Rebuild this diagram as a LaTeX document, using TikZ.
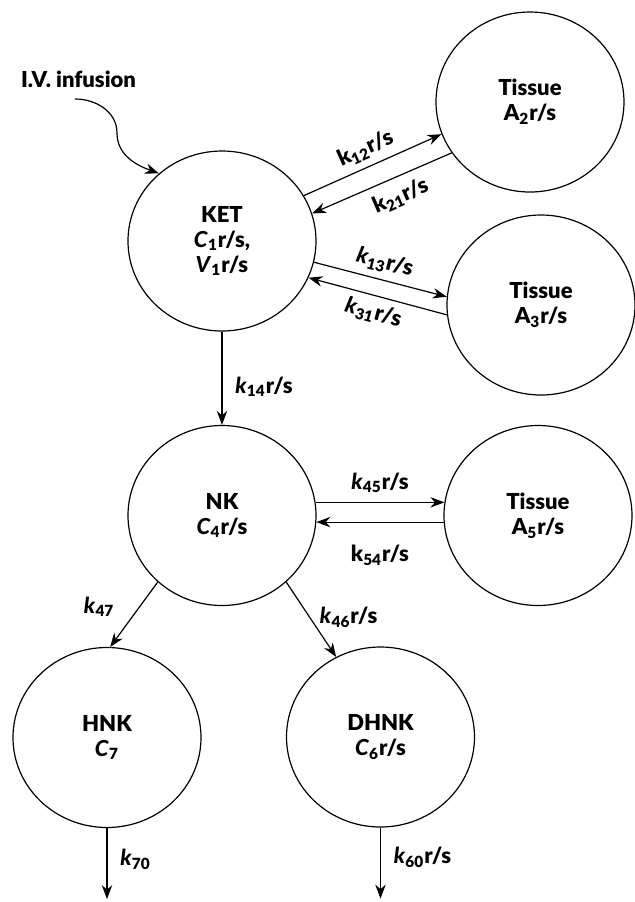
\documentclass[tikz,border=0pt]{standalone}
\usepackage{fontspec}
\setmainfont{Lato}[BoldFont={Lato Black}, BoldItalicFont={Lato Black Italic}]
\usetikzlibrary{shapes}
\usetikzlibrary{arrows.meta,positioning}
\tikzstyle{comp}=[ellipse, draw, minimum width=94pt, minimum height=90pt, inner sep=0pt, align=center]

\begin{document}
\begin{tikzpicture}
 [-{Stealth[length=7pt,width=5.2pt]}, line width=0.6pt, font=\fontsize{11}{12.5}\selectfont\bfseries, node distance=137.25pt]
 \useasboundingbox (0,0) rectangle (317.5pt,-451pt);
 \node[comp] (KET) at (111pt,-120.5pt) {KET\\\textit{C}\textsubscript{1}r/s,\\\textit{V}\textsubscript{1}r/s};
 \node[comp] (A2) [right of=KET, node distance=154pt, yshift=69.5pt] {Tissue\\A\textsubscript{2}r/s};
 \node[comp] (A3) [right of=KET, node distance=159.5pt, yshift=-32pt] {Tissue\\A\textsubscript{3}r/s};
 \node[comp] (NK) [below of=KET] {NK\\\textit{C}\textsubscript{4}r/s};
 \node[comp] (A5) [right of=NK, node distance=158pt] {Tissue\\A\textsubscript{5}r/s};
 \node[comp] (HNK) [below of=NK, node distance=111pt, xshift=-57.5pt] {HNK\\\textit{C}\textsubscript{7}};
 \node[comp] (DHNK) [below of=NK, node distance=110.75pt, xshift=79.25pt] {DHNK\\\textit{C}\textsubscript{6}r/s};
 \node[anchor=base] (iv) at (39.25pt,-43.5pt) {I.V. infusion};
 \coordinate (ivstart) at (37.5pt,-49.5pt);
 \coordinate (outH) at ([yshift=-35.5pt]HNK.south);
 \coordinate (outD) at ([yshift=-35.5pt]DHNK.south);
 % infusion
 \draw (ivstart) to[out=0,in=90] ++(21pt,-17pt) to[out=-90,in=160] (KET.133);
 \path[]
   (KET.29) edge node[sloped, above] {k\textsubscript{12}r/s} (A2.200)
   (A2.213) edge node[sloped, below=1pt, pos=0.42] {k\textsubscript{21}r/s} (KET.17)
   (KET.347) edge node[sloped, above] {\textit{k}\textsubscript{13}r/s} (A3.175)
   (A3.186) edge node[sloped, below] {\textit{k}\textsubscript{31}r/s} (KET.337)
   (KET) edge node[right=3pt, pos=0.59] {\textit{k}\textsubscript{14}r/s} (NK)
   (NK.8) edge node[above=1pt] {\textit{k}\textsubscript{45}r/s} (A5.172)
   (A5.184) edge node[below=8pt] {k\textsubscript{54}r/s} (NK.356)
   (NK.226) edge node[left=9pt, pos=0.38] {\textit{k}\textsubscript{47}} (HNK.88)
   (NK.314) edge node[right=1.5pt, pos=0.47] {\textit{k}\textsubscript{46}r/s} (DHNK.119)
   (HNK) edge node[right=3pt, pos=0.44] {\textit{k}\textsubscript{70}} (outH)
   (DHNK) edge node[right=3pt, pos=0.42] {\textit{k}\textsubscript{60}r/s} (outD);
\end{tikzpicture}
\end{document}
